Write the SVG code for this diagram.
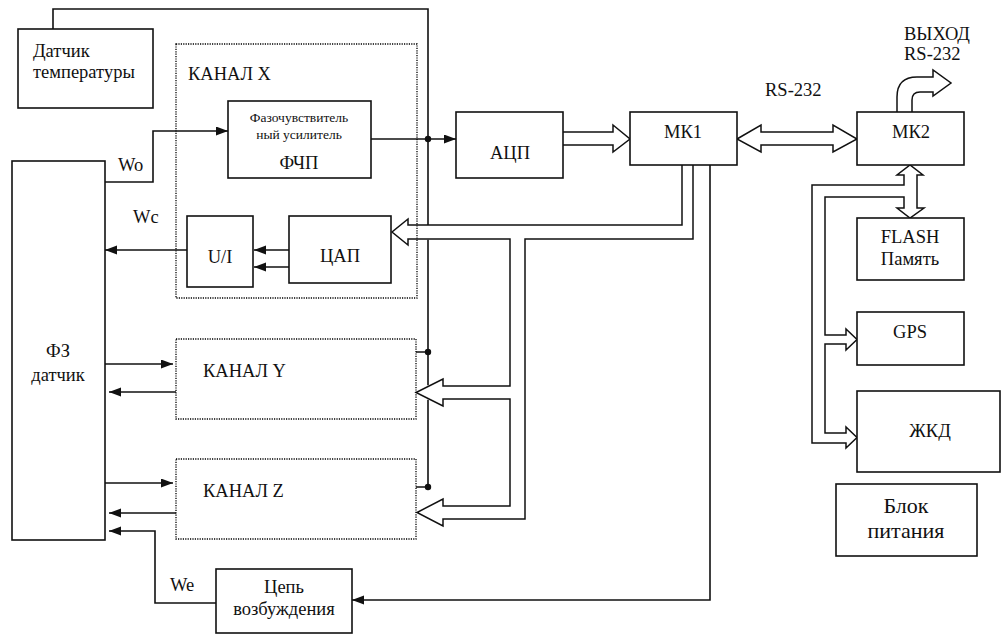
<svg xmlns="http://www.w3.org/2000/svg" width="1002" height="634" viewBox="0 0 1002 634">
<style>
.box{fill:#fff;stroke:#111;stroke-width:1.6}
.dot{fill:none;stroke:#000;stroke-width:1.3;stroke-dasharray:1.2 1.2}
.ln{fill:none;stroke:#111;stroke-width:1.6}
.bus{fill:#fff;stroke:#111;stroke-width:1.5;stroke-linejoin:miter}
.t{font-family:"Liberation Serif","Times New Roman",serif;font-size:18.5px;fill:#111}
.m{text-anchor:middle}
.s{font-size:13.5px}
.b{font-size:22px}
</style>
<defs>
<marker id="ah" markerUnits="userSpaceOnUse" markerWidth="14" markerHeight="10" refX="12" refY="4.5" orient="auto">
<path d="M0,0 L12,4.5 L0,9 Z" fill="#111"/>
</marker>
</defs>
<rect width="1002" height="634" fill="#fff"/>

<g id="connectors">
<path class="ln" d="M53,29 V9 H428 V230"/>
<path class="ln" d="M416,352 H428 M416,487 H428"/>
<path class="ln" d="M105,182 H153 V131 H228" marker-end="url(#ah)"/>
<path class="ln" d="M371,139 H456" marker-end="url(#ah)"/>
<path class="ln" d="M187,250 H105" marker-end="url(#ah)"/>
<path class="ln" d="M289,250 H254" marker-end="url(#ah)"/>
<path class="ln" d="M289,267 H254" marker-end="url(#ah)"/>
<path class="ln" d="M105,364 H173" marker-end="url(#ah)"/>
<path class="ln" d="M176,392 H109" marker-end="url(#ah)"/>
<path class="ln" d="M105,483 H173" marker-end="url(#ah)"/>
<path class="ln" d="M176,513 H109" marker-end="url(#ah)"/>
<path class="ln" d="M216,603 H155 V531 H109" marker-end="url(#ah)"/>
<path class="ln" d="M710,165 V600 H352" marker-end="url(#ah)"/>
<path class="bus" d="M563,132 H613 V125 L630,139 L613,152 V145 H563"/>
<path class="bus" d="M737,139 L761,125 V132 H833 V125 L857,139 L833,152 V145 H761 V152 Z"/>
<path class="bus" d="M897,112 V97 Q897,77 917,77 H933 V70 L951,83 L933,96 V92 H920 Q912,92 912,100 V112"/>
<path class="bus" d="M682,165 V225 H408 V219 L392,232 L408,245 V239 H510 V386 H443 V379 L416,392.5 L443,406 V399 H510 V506 H443 V499 L417,512.5 L443,526 V519 H525 V239 H693 V165"/>
<path class="bus" d="M904,185 V175 H897 L910,165 L923,175 H917 V208 H924 L910,218 L897,208 H904 V197 H825 V335 H846 V329 L857,339.5 L846,350 V344 H825 V433 H846 V427 L857,437.5 L846,448 V443 H812 V185 Z"/>
<path class="ln" d="M428,239.8 V385.2 M428,399.8 V487"/>
<circle cx="428" cy="139" r="3.2" fill="#111"/>
<circle cx="428" cy="352" r="3.2" fill="#111"/>
<circle cx="428" cy="487" r="3.2" fill="#111"/>
</g>

<g id="temp"><rect class="box" x="18" y="29" width="135" height="79"/><text class="t" x="33" y="57">Датчик</text><text class="t" x="33" y="78">температуры</text></g>
<g id="chanX"><rect class="dot" x="176" y="44" width="241" height="254"/><text class="t" x="188" y="80">КАНАЛ X</text></g>
<g id="fchp"><rect class="box" x="228" y="101" width="143" height="77"/><text class="t m s" x="299" y="122">Фазочувствитель</text><text class="t m s" x="299" y="139">ный усилитель</text><text class="t m" x="299" y="169">ФЧП</text></g>
<g id="fz"><rect class="box" x="12" y="161" width="93" height="379"/><text class="t m" x="58" y="357">ФЗ</text><text class="t m" x="58" y="381">датчик</text></g>
<g id="adc"><rect class="box" x="456" y="112" width="107" height="66"/><text class="t m" x="510" y="159">АЦП</text></g>
<g id="mk1"><rect class="box" x="630" y="112" width="107" height="53"/><text class="t m" x="683" y="138">МК1</text></g>
<g id="mk2"><rect class="box" x="857" y="112" width="107" height="53"/><text class="t m" x="911" y="138">МК2</text></g>
<g id="labels"><text class="t" x="765" y="96">RS-232</text><text class="t" x="904" y="40">ВЫХОД</text><text class="t" x="904" y="60">RS-232</text><text class="t" x="118" y="171">Wo</text><text class="t" x="133" y="223">Wc</text><text class="t" x="170" y="591">We</text></g>
<g id="ui"><rect class="box" x="187" y="216" width="66" height="71"/><text class="t m" x="220" y="263">U/I</text></g>
<g id="dac"><rect class="box" x="289" y="216" width="102" height="67"/><text class="t m" x="340" y="262">ЦАП</text></g>
<g id="chanY"><rect class="dot" x="176" y="339" width="240" height="80"/><text class="t" x="203" y="377">КАНАЛ Y</text></g>
<g id="chanZ"><rect class="dot" x="176" y="459" width="240" height="80"/><text class="t" x="203" y="497">КАНАЛ Z</text></g>
<g id="exc"><rect class="box" x="216" y="569" width="136" height="64"/><text class="t m" x="284" y="593">Цепь</text><text class="t m" x="284" y="615">возбуждения</text></g>
<g id="flash"><rect class="box" x="857" y="218" width="107" height="62"/><text class="t m" x="910" y="243">FLASH</text><text class="t m" x="910" y="265">Память</text></g>
<g id="gps"><rect class="box" x="857" y="312" width="107" height="53"/><text class="t m" x="910" y="338">GPS</text></g>
<g id="lcd"><rect class="box" x="857" y="391" width="143" height="81"/><text class="t m" x="930" y="437">ЖКД</text></g>
<g id="power"><rect class="box" x="836" y="484" width="141" height="72"/><text class="t m b" x="906" y="513">Блок</text><text class="t m b" x="906" y="538">питания</text></g>
</svg>
